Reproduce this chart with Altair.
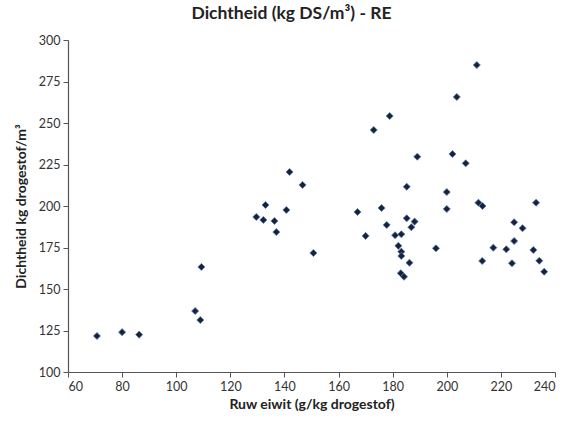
import altair as alt
import pandas as pd

ruw_eiwit = [70.7, 80.0, 86.3, 107.0, 108.9, 109.3, 129.6, 132.2, 133.0, 136.3,
             137.0, 140.7, 141.9, 146.7, 150.7, 167.0, 170.0, 173.0, 175.9, 177.8,
             178.9, 189.1, 202.1, 207.0, 185.2, 200.0, 200.0, 211.7, 213.2, 233.0,
             185.2, 188.1, 186.9, 180.9, 183.2, 224.9, 228.0, 224.9, 182.1, 183.2,
             183.2, 196.0, 217.2, 222.0, 232.0, 186.2, 213.1, 224.1, 234.2, 236.0,
             183.0, 184.2, 211.1, 203.7]
dichtheid = [121.7, 124.0, 122.5, 136.7, 131.3, 163.3, 193.4, 191.6, 200.6, 191.0,
             184.3, 197.6, 220.5, 212.7, 171.7, 196.4, 182.0, 245.8, 198.8, 188.6,
             254.2, 229.7, 231.3, 225.7, 211.6, 208.4, 198.2, 202.0, 200.0, 202.0,
             192.6, 190.6, 187.2, 182.4, 183.0, 190.2, 186.6, 178.9, 176.0, 172.5,
             169.9, 174.5, 174.9, 173.9, 173.5, 165.8, 166.9, 165.5, 167.0, 160.4,
             159.5, 157.4, 284.9, 265.7]

df = pd.DataFrame({"x": ruw_eiwit, "y": dichtheid})

FONT = "Lato"

chart = alt.Chart(df).mark_point(
    shape="diamond", filled=True, fill="#1c2233", stroke="#4a7ebb",
    strokeWidth=0.8, size=50, opacity=1
).encode(
    x=alt.X("x:Q", scale=alt.Scale(domain=[60, 240], nice=False, zero=False),
            axis=alt.Axis(values=list(range(60, 241, 20)), title="Ruw eiwit (g/kg drogestof)",
                          grid=False)),
    y=alt.Y("y:Q", scale=alt.Scale(domain=[100, 300], nice=False, zero=False),
            axis=alt.Axis(values=list(range(100, 301, 25)), title="Dichtheid kg drogestof/m³",
                          grid=False)),
).properties(
    width=487, height=332,
    autosize=alt.AutoSizeParams(type="none"),
    padding={"left": 68, "top": 40, "right": 10, "bottom": 53},
    title=alt.TitleParams("Dichtheid (kg DS/m³) - RE", fontSize=17.5, font=FONT,
                          fontWeight="bold", color="#222222", anchor="middle",
                          dx=-20, offset=12),
).configure_view(stroke=None).configure_axis(
    domainColor="#555555", tickColor="#555555", tickSize=5, domainWidth=1.2,
    labelFont=FONT, labelFontSize=12.5, labelColor="#333333", labelPadding=3,
    titleFont=FONT, titleFontSize=14, titleFontWeight="bold", titleColor="#222222",
).configure_axisX(titlePadding=5).configure_axisY(titlePadding=10)

chart.save("out.html", embed_options={"renderer": "svg", "actions": False})
